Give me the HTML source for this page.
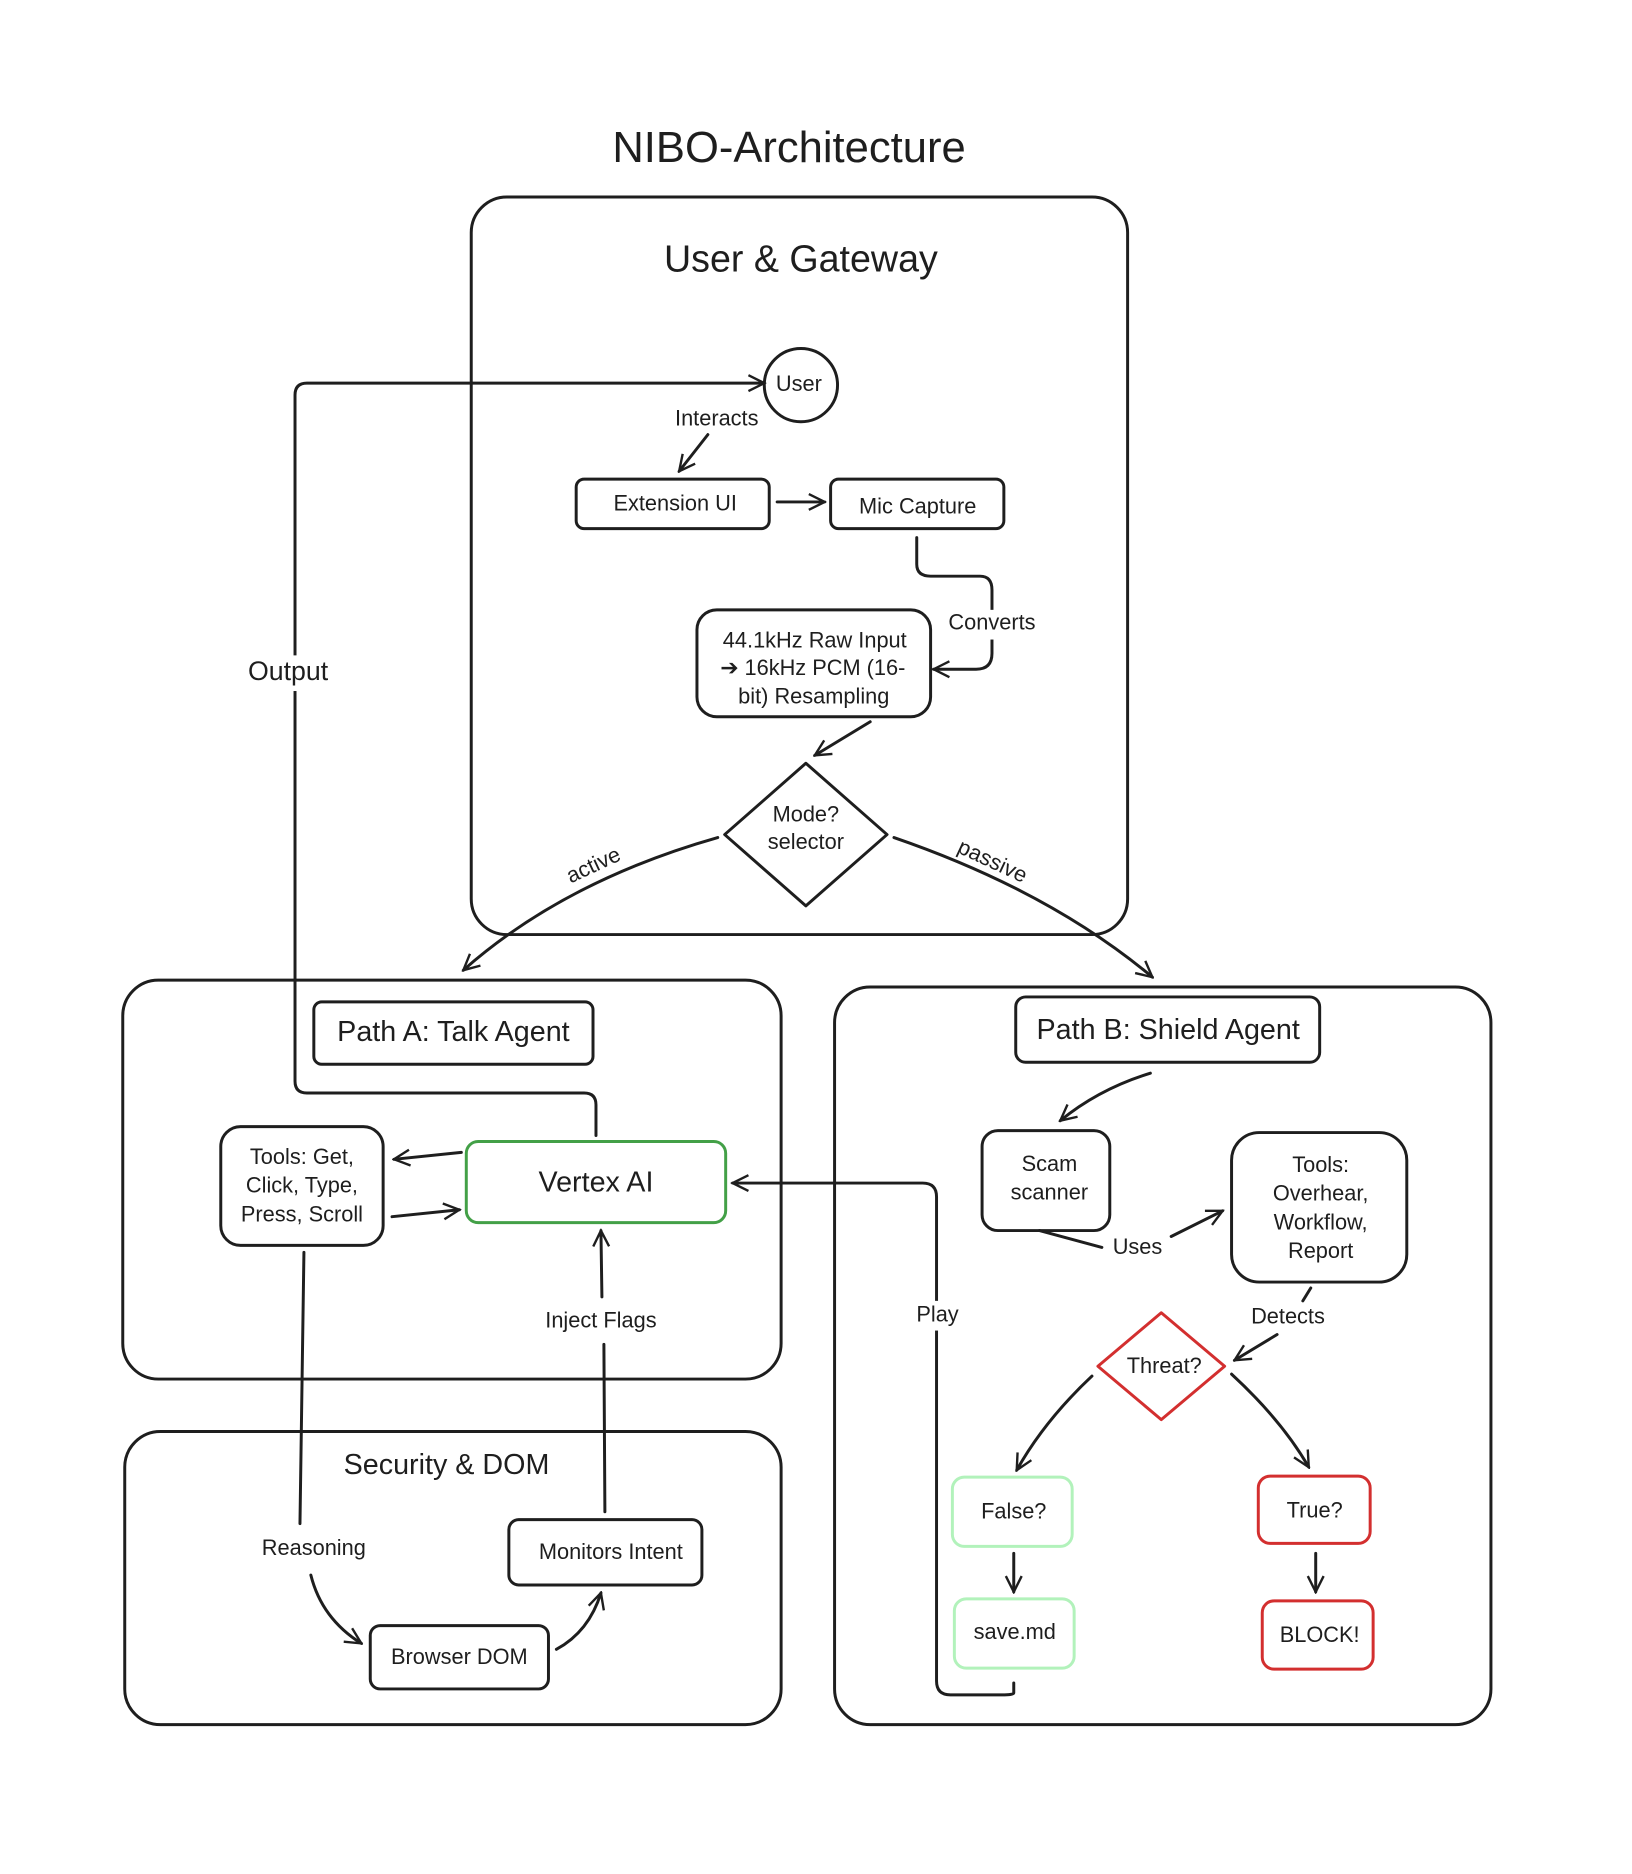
<!DOCTYPE html>
<html><head><meta charset="utf-8"><style>
html,body{margin:0;padding:0;background:#fff;}
svg{display:block;}
text{font-family:"Liberation Sans",sans-serif;fill:#1e1e1e;text-anchor:middle;dominant-baseline:middle;}
</style></head><body>
<svg width="1632" height="1874" viewBox="0 0 1632 1874" xmlns="http://www.w3.org/2000/svg">
<defs>
<marker id="a" viewBox="0 0 20 20" refX="18" refY="10" markerWidth="20" markerHeight="20" orient="auto" markerUnits="userSpaceOnUse">
<path d="M2,2 L18,10 L2,18" fill="none" stroke="#1e1e1e" stroke-width="2.4"/></marker>
</defs>
<g transform="scale(0.99)">
<g fill="none" stroke="#1e1e1e" stroke-width="3" stroke-linecap="round" stroke-linejoin="round">
<rect x="476" y="199" width="663" height="745" rx="36"/>
<rect x="124" y="990" width="665" height="403" rx="36"/>
<rect x="126" y="1446" width="663" height="296" rx="36"/>
<rect x="843" y="997" width="663" height="745" rx="36"/>
<circle cx="809" cy="389" r="37"/>
<rect x="582" y="484" width="195" height="50" rx="8"/>
<rect x="839" y="484" width="175" height="50" rx="8"/>
<rect x="704" y="616" width="236" height="108" rx="20"/>
<path d="M814,771 L896,843 L814,915 L732,843 Z"/>
<rect x="317" y="1012" width="282" height="63" rx="8"/>
<rect x="223" y="1138" width="164" height="120" rx="20"/>
<rect x="471" y="1153" width="262" height="82" rx="12" stroke="#43a047"/>
<rect x="514" y="1535" width="195" height="66" rx="10"/>
<rect x="374" y="1642" width="180" height="64" rx="10"/>
<rect x="1026" y="1007" width="307" height="66" rx="10"/>
<rect x="992" y="1142" width="129" height="101" rx="16"/>
<rect x="1244" y="1144" width="177" height="151" rx="28"/>
<path d="M1173,1326 L1237,1380 L1173,1434 L1109,1380 Z" stroke="#d32f2f"/>
<rect x="962" y="1492" width="121" height="70" rx="12" stroke="#b2f2bb"/>
<rect x="964" y="1615" width="121" height="70" rx="12" stroke="#b2f2bb"/>
<rect x="1271" y="1491" width="113" height="68" rx="12" stroke="#d32f2f"/>
<rect x="1275" y="1617" width="112" height="69" rx="12" stroke="#d32f2f"/>
<path d="M602,1147 L602,1116 Q602,1104 590,1104 L310,1104 Q298,1104 298,1092 L298,399 Q298,387 310,387 L772,387" marker-end="url(#a)"/>
<path d="M715,439 L686,476" marker-end="url(#a)"/>
<path d="M785,507 L833,507" marker-end="url(#a)"/>
<path d="M926,543 L926,570 Q926,582 940,582 L990,582 Q1002,582 1002,596 L1002,660 Q1002,676 986,676 L943,676" marker-end="url(#a)"/>
<path d="M879,729 L823,763" marker-end="url(#a)"/>
<path d="M725,846 Q570,890 468,980" marker-end="url(#a)"/>
<path d="M903,846 Q1060,900 1164,987" marker-end="url(#a)"/>
<path d="M466,1164 L398,1171" marker-end="url(#a)"/>
<path d="M396,1229 L464,1222" marker-end="url(#a)"/>
<path d="M307,1265 L303,1539"/>
<path d="M314,1591 Q325,1635 365,1660" marker-end="url(#a)"/>
<path d="M562,1666 Q595,1648 607,1609" marker-end="url(#a)"/>
<path d="M611,1527 L610,1358"/>
<path d="M608,1310 L607,1243" marker-end="url(#a)"/>
<path d="M1024,1700 L1024,1710 Q1024,1712 1012,1712 L960,1712 Q946,1712 946,1698 L946,1209 Q946,1195 932,1195 L740,1195" marker-end="url(#a)"/>
<path d="M1162,1084 Q1110,1100 1071,1132" marker-end="url(#a)"/>
<path d="M1050,1243 L1113,1260"/>
<path d="M1183,1249 L1235,1223" marker-end="url(#a)"/>
<path d="M1324,1301 L1316,1314"/>
<path d="M1290,1348 L1247,1374" marker-end="url(#a)"/>
<path d="M1103,1390 Q1055,1435 1027,1485" marker-end="url(#a)"/>
<path d="M1244,1388 Q1295,1435 1322,1482" marker-end="url(#a)"/>
<path d="M1024,1569 L1024,1608" marker-end="url(#a)"/>
<path d="M1329,1569 L1329,1608" marker-end="url(#a)"/>
</g>
<g fill="#fff">
<rect x="240" y="662" width="104" height="36"/>
<rect x="922" y="1314" width="50" height="30"/>
<rect x="955" y="616" width="94" height="30"/>
</g>
<text x="797" y="152" font-size="44">NIBO-Architecture</text>
<text x="809" y="264" font-size="38">User &amp; Gateway</text>
<text x="807" y="389" font-size="22">User</text>
<text x="724" y="424" font-size="22">Interacts</text>
<text x="682" y="510" font-size="22">Extension UI</text>
<text x="927" y="513" font-size="22">Mic Capture</text>
<text x="1002" y="630" font-size="22">Converts</text>
<text x="823" y="648" font-size="22">44.1kHz Raw Input</text>
<text x="821" y="676" font-size="22">➔ 16kHz PCM (16-</text>
<text x="822" y="705" font-size="22">bit) Resampling</text>
<text x="814" y="824" font-size="22">Mode?</text>
<text x="814" y="852" font-size="22">selector</text>
<text x="600" y="875" font-size="22" transform="rotate(-25 600 875)">active</text>
<text x="1002" y="871" font-size="22" transform="rotate(25 1002 871)">passive</text>
<text x="291" y="680" font-size="27">Output</text>
<text x="458" y="1044" font-size="29">Path A: Talk Agent</text>
<text x="305" y="1170" font-size="22">Tools: Get,</text>
<text x="305" y="1199" font-size="22">Click, Type,</text>
<text x="305" y="1228" font-size="22">Press, Scroll</text>
<text x="602" y="1196" font-size="29">Vertex AI</text>
<text x="607" y="1335" font-size="22">Inject Flags</text>
<text x="451" y="1481" font-size="29">Security &amp; DOM</text>
<text x="317" y="1565" font-size="22">Reasoning</text>
<text x="617" y="1569" font-size="22">Monitors Intent</text>
<text x="464" y="1675" font-size="22">Browser DOM</text>
<text x="1180" y="1042" font-size="29">Path B: Shield Agent</text>
<text x="1060" y="1177" font-size="22">Scam</text>
<text x="1060" y="1206" font-size="22">scanner</text>
<text x="1334" y="1178" font-size="22">Tools:</text>
<text x="1334" y="1207" font-size="22">Overhear,</text>
<text x="1334" y="1236" font-size="22">Workflow,</text>
<text x="1334" y="1265" font-size="22">Report</text>
<text x="1149" y="1261" font-size="22">Uses</text>
<text x="1301" y="1331" font-size="22">Detects</text>
<text x="947" y="1329" font-size="22">Play</text>
<text x="1176" y="1381" font-size="22">Threat?</text>
<text x="1024" y="1528" font-size="22">False?</text>
<text x="1025" y="1650" font-size="22">save.md</text>
<text x="1328" y="1527" font-size="22">True?</text>
<text x="1333" y="1653" font-size="22">BLOCK!</text>
</g>
</svg>
</body></html>
